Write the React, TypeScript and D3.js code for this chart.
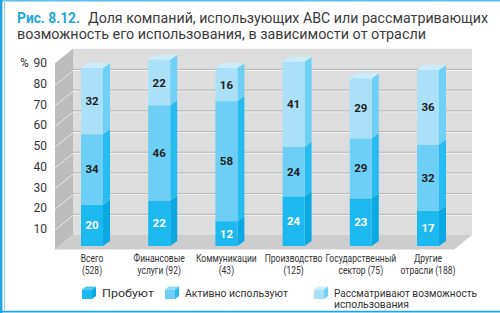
import { useEffect, useRef } from 'react'
import * as d3 from 'd3'

const categories = ['Всего', 'Финансовые', 'Коммуникации', 'Производство', 'Государственный', 'Другие']
const categorySub = ['(528)', 'услуги (92)', '(43)', '(125)', 'сектор (75)', 'отрасли (188)']
const trying = [20, 22, 12, 24, 23, 17]
const active = [34, 46, 58, 24, 29, 32]
const considering = [32, 22, 16, 41, 29, 36]
const yTicks = [10, 20, 30, 40, 50, 60, 70, 80, 90]
const seriesKeys = ['trying', 'active', 'considering']
const seriesLabels = [['Пробуют'], ['Активно используют'], ['Рассматривают возможность', 'использования']]

// front / side / top face colours per series
const faceColors = [
  { front: '#1bb9ef', side: '#0aa9e3', top: '#4cc8f3' },
  { front: '#6dcff6', side: '#27bcf0', top: '#93dcf8' },
  { front: '#aae1f9', side: '#6fcff5', top: '#c9edfc' },
]

const FONT = "Roboto, 'DejaVu Sans', sans-serif"
const NARROW_SCALE = 0.74

export default function App() {
  const svgRef = useRef<SVGSVGElement>(null)

  useEffect(() => {
    if (!svgRef.current) return
    const svg = d3.select(svgRef.current)
    svg.selectAll('*').remove()

    // frame
    svg.append('rect').attr('width', 500).attr('height', 313).attr('fill', '#fff')
    svg.append('line').attr('x1', 0).attr('x2', 500).attr('y1', 0.75).attr('y2', 0.75)
      .attr('stroke', '#5cc0ea').attr('stroke-width', 1.5)
    svg.append('line').attr('x1', 1.2).attr('x2', 1.2).attr('y1', 0).attr('y2', 313)
      .attr('stroke', '#1ea5de').attr('stroke-width', 2.4)
    svg.append('line').attr('x1', 4.5).attr('x2', 4.5).attr('y1', 0).attr('y2', 310)
      .attr('stroke', '#8fd3f2').attr('stroke-width', 1)
    svg.append('line').attr('x1', 0).attr('x2', 500).attr('y1', 311.7).attr('y2', 311.7)
      .attr('stroke', '#1ea5de').attr('stroke-width', 1.8)

    // title
    const title = svg.append('g').style('font-family', FONT).style('font-size', '15.5px')
    title.append('text').attr('x', 17).attr('y', 23.3)
      .attr('textLength', 63).attr('lengthAdjust', 'spacingAndGlyphs')
      .attr('fill', '#1ea5de').attr('font-weight', 'bold').text('Рис. 8.12.')
    title.append('text').attr('x', 88).attr('y', 23.3)
      .attr('textLength', 400).attr('lengthAdjust', 'spacingAndGlyphs')
      .attr('fill', '#3a3a3a').text('Доля компаний, использующих АВС или рассматривающих')
    title.append('text').attr('x', 17).attr('y', 39.3)
      .attr('textLength', 409).attr('lengthAdjust', 'spacingAndGlyphs')
      .attr('fill', '#3a3a3a').text('возможность его использования, в зависимости от отрасли')

    // 3D room: front plane and back plane scales
    const yFront = d3.scaleLinear().domain([0, 90]).range([249.5, 249.5 - 90 * 2.07])
    const wallDx = 18
    const wallDy = -14.5
    const xLeft = 55
    const xRightBack = 472
    const xRightFront = xRightBack - wallDx
    const yBack = (v: number) => yFront(v) + wallDy

    const room = svg.append('g')
    room.append('polygon')
      .attr('points', [[xLeft + wallDx, yBack(90)], [xRightBack, yBack(90)], [xRightBack, yBack(0)], [xLeft + wallDx, yBack(0)]].join(' '))
      .attr('fill', '#dddddd')
    room.append('polygon')
      .attr('points', [[xLeft, yFront(90)], [xLeft + wallDx, yBack(90)], [xLeft + wallDx, yBack(0)], [xLeft, yFront(0)]].join(' '))
      .attr('fill', '#bcbcbc')
    room.append('polygon')
      .attr('points', [[xLeft, yFront(0)], [xRightFront, yFront(0)], [xRightBack, yBack(0)], [xLeft + wallDx, yBack(0)]].join(' '))
      .attr('fill', '#cdcdcd')

    // gridlines along left and back walls
    yTicks.filter(v => v < 90).forEach(v => {
      const path = `M${xLeft},${yFront(v)}L${xLeft + wallDx},${yBack(v)}L${xRightBack},${yBack(v)}`
      room.append('path').attr('d', path).attr('fill', 'none')
        .attr('stroke', '#f4f4f4').attr('stroke-width', 1).attr('transform', 'translate(0,1)')
      room.append('path').attr('d', path).attr('fill', 'none')
        .attr('stroke', '#b4b4b4').attr('stroke-width', 1)
    })

    // y tick labels
    const axis = svg.append('g').style('font-family', FONT).style('font-size', '12px').attr('fill', '#333')
    axis.selectAll('.tick')
      .data(yTicks)
      .enter().append('text')
      .attr('x', 47)
      .attr('y', d => yFront(d) + 1)
      .attr('text-anchor', 'end')
      .attr('dominant-baseline', 'middle')
      .text(d => d)
    axis.append('text').attr('x', 20).attr('y', yFront(90) + 1)
      .attr('dominant-baseline', 'middle').text('%')

    // bars
    const rows = categories.map((c, i) => ({
      category: c,
      trying: trying[i],
      active: active[i],
      considering: considering[i],
    }))
    const stacked = d3.stack<any>().keys(seriesKeys)(rows)

    const x = d3.scalePoint().domain(categories).range([92, 428])
    const y = d3.scaleLinear().domain([0, 90]).range([246, 246 - 90 * 2.07])
    const barW = 22
    const bdx = 7
    const bdy = -5

    const bars = svg.append('g')
    stacked.forEach((layer, si) => {
      const col = faceColors[si]
      layer.forEach((d, i) => {
        const x0 = (x(categories[i]) as number) - barW / 2
        const x1 = x0 + barW
        const yTop = y(d[1])
        const yBot = y(d[0])
        // side face
        bars.append('polygon')
          .attr('points', [[x1, yBot], [x1 + bdx, yBot + bdy], [x1 + bdx, yTop + bdy], [x1, yTop]].join(' '))
          .attr('fill', col.side)
        // front face
        bars.append('rect')
          .attr('x', x0).attr('y', yTop).attr('width', barW).attr('height', yBot - yTop)
          .attr('fill', col.front)
        // top face on the last segment
        if (si === stacked.length - 1) {
          bars.append('polygon')
            .attr('points', [[x0, yTop], [x0 + bdx, yTop + bdy], [x1 + bdx, yTop + bdy], [x1, yTop]].join(' '))
            .attr('fill', col.top)
        }
        bars.append('text')
          .attr('x', x0 + barW / 2)
          .attr('y', (yTop + yBot) / 2 + 1)
          .attr('text-anchor', 'middle')
          .attr('dominant-baseline', 'middle')
          .attr('fill', si === 0 ? '#ffffff' : '#222222')
          .style('font-family', FONT)
          .style('font-weight', 'bold')
          .style('font-size', '11.5px')
          .text(d[1] - d[0])
      })
    })

    // category labels, horizontally condensed
    const cats = svg.append('g')
      .attr('transform', `scale(${NARROW_SCALE},1)`)
      .style('font-family', FONT).style('font-size', '11.5px').attr('fill', '#333')
    categories.forEach((c, i) => {
      const cx = (x(c) as number) / NARROW_SCALE
      cats.append('text').attr('x', cx).attr('y', 262.5).attr('text-anchor', 'middle').text(c)
      cats.append('text').attr('x', cx).attr('y', 274.5).attr('text-anchor', 'middle').text(categorySub[i])
    })

    // legend
    const legendX = [82, 165, 314]
    const legendWidths = [[52], [103], [143, 75]]
    const legend = svg.append('g').style('font-family', FONT).style('font-size', '10.5px').attr('fill', '#333')
    seriesLabels.forEach((lines, i) => {
      const col = faceColors[i]
      const lx = legendX[i]
      const ly = 289.5
      const w = 10
      const h = 9.5
      legend.append('polygon')
        .attr('points', [[lx + w, ly + h], [lx + w + 4, ly + h - 3], [lx + w + 4, ly - 3], [lx + w, ly]].join(' '))
        .attr('fill', col.side)
      legend.append('polygon')
        .attr('points', [[lx, ly], [lx + 4, ly - 3], [lx + w + 4, ly - 3], [lx + w, ly]].join(' '))
        .attr('fill', col.top)
      legend.append('rect').attr('x', lx).attr('y', ly).attr('width', w).attr('height', h).attr('fill', col.front)
      lines.forEach((line, li) => {
        legend.append('text').attr('x', lx + 20).attr('y', 297 + li * 10.5)
          .attr('textLength', legendWidths[i][li]).attr('lengthAdjust', 'spacingAndGlyphs')
          .text(line)
      })
    })
  }, [])

  return (
    <svg
      ref={svgRef}
      width={500}
      height={313}
      style={{ position: 'absolute', left: 0, top: 0 }}
    />
  )
}
